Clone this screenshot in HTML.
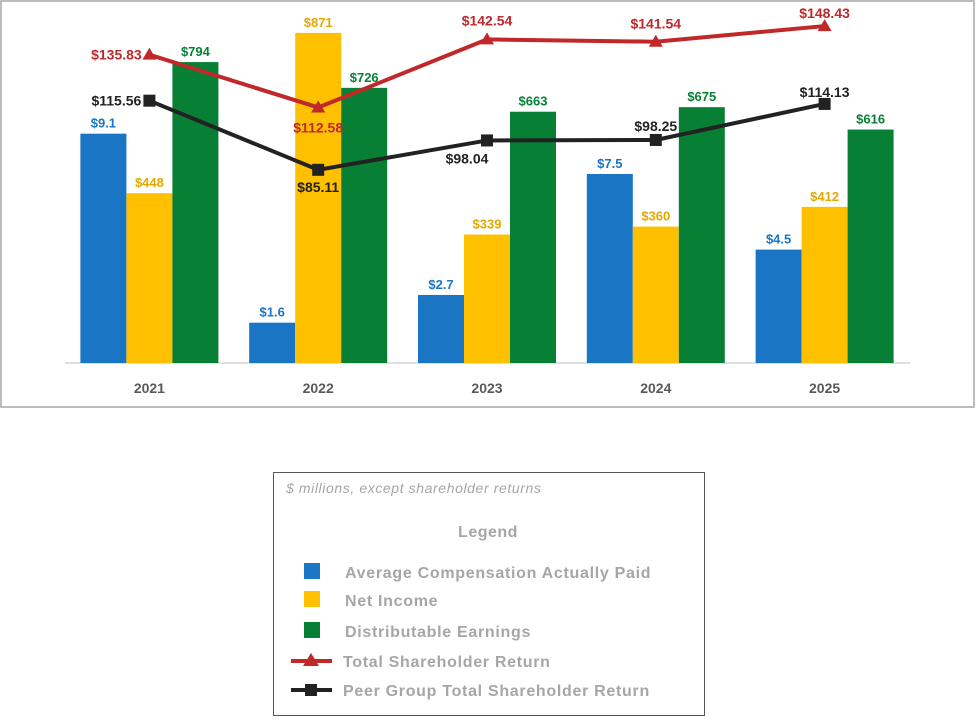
<!DOCTYPE html>
<html><head><meta charset="utf-8"><style>
body{margin:0;background:#fff;font-family:"Liberation Sans",sans-serif;}
svg text{font-family:"Liberation Sans",sans-serif;}
</style></head><body>
<svg id="chart" width="976" height="718" viewBox="0 0 976 718">
<rect x="1" y="1" width="973" height="406" fill="#fff" stroke="#a6a6a6" stroke-width="1.5"/>
<g id="plot"></g>
<g>
<rect x="273.5" y="472.5" width="431" height="243" fill="#fff" stroke="#555" stroke-width="1"/>
<text x="286" y="493" font-size="14" letter-spacing="0.6" font-style="italic" fill="#a6a6a6">$ millions, except shareholder returns</text>
<text x="488" y="537" font-size="16" letter-spacing="0.5" font-weight="bold" fill="#a6a6a6" text-anchor="middle">Legend</text>
<g><rect x="304" y="563" width="16" height="16" fill="#1a75c4"/><text x="345" y="578" font-size="16" letter-spacing="0.7" font-weight="bold" fill="#a6a6a6">Average Compensation Actually Paid</text></g>
<g><rect x="304" y="591" width="16" height="16" fill="#ffc000"/><text x="345" y="606" font-size="16" letter-spacing="0.7" font-weight="bold" fill="#a6a6a6">Net Income</text></g>
<g><rect x="304" y="622" width="16" height="16" fill="#078036"/><text x="345" y="637" font-size="16" letter-spacing="0.7" font-weight="bold" fill="#a6a6a6">Distributable Earnings</text></g>
<g><line x1="291" y1="661" x2="332" y2="661" stroke="#c0282a" stroke-width="4"/><polygon points="311,653 319,666 303,666" fill="#c0282a"/><text x="343" y="667" font-size="16" letter-spacing="0.7" font-weight="bold" fill="#a6a6a6">Total Shareholder Return</text></g>
<g><line x1="291" y1="690" x2="332" y2="690" stroke="#222" stroke-width="4"/><rect x="305" y="684" width="12" height="12" fill="#222"/><text x="343" y="696" font-size="16" letter-spacing="0.7" font-weight="bold" fill="#a6a6a6">Peer Group Total Shareholder Return</text></g>
</g>
</svg>
<script>
const categories=["2021","2022","2023","2024","2025"];
const compensation=[9.1,1.6,2.7,7.5,4.5];
const netIncome=[448,871,339,360,412];
const distributable=[794,726,663,675,616];
const tsr=[135.83,112.58,142.54,141.54,148.43];
const peerTsr=[115.56,85.11,98.04,98.25,114.13];
const compLabels=["$9.1","$1.6","$2.7","$7.5","$4.5"];

const NS="http://www.w3.org/2000/svg";
const plot=document.getElementById('plot');
const base=363,x0=65,step=168.8,bw=46;
const xC=i=>x0+step*(i+0.5);
const yComp=v=>base-v*25.2;
const yMoney=v=>base-v*0.379;
const yRet=v=>base-v*2.27;
function mk(t,a){const e=document.createElementNS(NS,t);for(const k in a)e.setAttribute(k,a[k]);plot.appendChild(e);return e;}
function txt(x,y,s,c,anchor){const e=mk('text',{x:x,y:y,'font-size':13,'font-weight':'bold',fill:c,'text-anchor':anchor||'middle'});e.textContent=s;return e;}
const ax=mk('line',{x1:x0,y1:base,x2:910,y2:base,stroke:'#bfbfbf','stroke-width':1});


const series=[[compensation,yComp,'#1a75c4','#1a75c4',-1,'bar-compensation'],[netIncome,yMoney,'#ffc000','#e6a800',0,'bar-net-income'],[distributable,yMoney,'#078036','#078036',1,'bar-distributable']];
categories.forEach((c,i)=>{
 const t=txt(xC(i),393,c,'#595959');
 t.setAttribute('font-size','14');
 
 
 series.forEach(([arr,sc,col,lc,off,name])=>{
  const bx=xC(i)+off*bw-bw/2,y=sc(arr[i]);
  const r=mk('rect',{x:bx,y:y,width:bw,height:base-y,fill:col});
  
  
  const lab=txt(bx+bw/2,y-6,arr===compensation?compLabels[i]:'$'+arr[i],lc);
  
  
 });
});
function line(arr,col,name,marker,labelOff){
 const pts=arr.map((v,i)=>xC(i)+','+yRet(v)).join(' ');
 const l=mk('polyline',{points:pts,fill:'none',stroke:col,'stroke-width':4});
 
 
 arr.forEach((v,i)=>{
  const x=xC(i),y=yRet(v);let m;
  if(marker==='tri')m=mk('polygon',{points:`${x},${y-7} ${x+7},${y+5} ${x-7},${y+5}`,fill:col});
  else m=mk('rect',{x:x-6,y:y-6,width:12,height:12,fill:col});
  
  
  const o=labelOff[i];
  const t=txt(x+o[0],y+o[1],'$'+v.toFixed(2),col);
  t.setAttribute('font-size','14');
  
  
 });
}
line(tsr,'#c0282a','tsr-line','tri',[[-33,5],[0,25],[0,-14],[0,-13],[0,-8]]);
line(peerTsr,'#222','peer-tsr-line','sq',[[-33,5],[0,22],[-20,23],[0,-9],[0,-7]]);
</script>
</body></html>
